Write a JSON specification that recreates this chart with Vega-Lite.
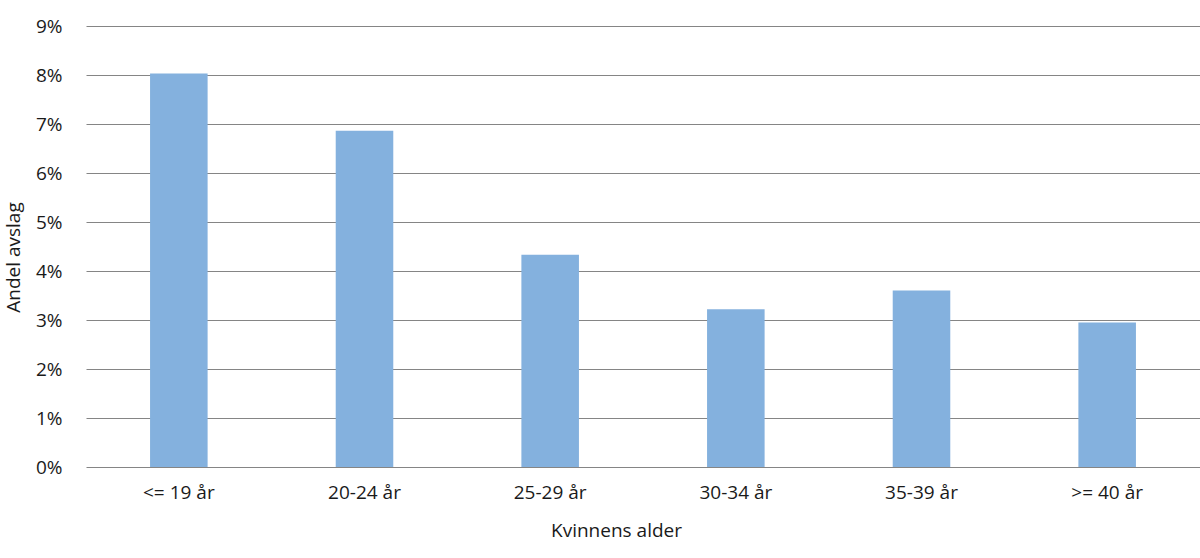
{
  "$schema": "https://vega.github.io/schema/vega-lite/v6.json",
  "autosize": {"type": "none"},
  "width": 1114,
  "height": 441,
  "padding": {"left": 86, "top": 26, "right": 0, "bottom": 91},
  "background": "white",
  "config": {
    "view": {"stroke": null},
    "font": "Open Sans",
    "axis": {
      "labelFont": "Open Sans",
      "titleFont": "Open Sans",
      "labelFontSize": 19,
      "titleFontSize": 19,
      "labelColor": "#1a1a1a",
      "titleColor": "#1a1a1a",
      "titleFontWeight": "normal",
      "labelOverlap": false
    }
  },
  "data": {
    "values": [
      {"alder": "<= 19 år", "andel": 0.0803},
      {"alder": "20-24 år", "andel": 0.0686},
      {"alder": "25-29 år", "andel": 0.0433},
      {"alder": "30-34 år", "andel": 0.0322},
      {"alder": "35-39 år", "andel": 0.0360},
      {"alder": ">= 40 år", "andel": 0.0295}
    ]
  },
  "mark": {"type": "bar", "color": "#84b1de"},
  "encoding": {
    "x": {
      "field": "alder",
      "type": "nominal",
      "sort": null,
      "title": "Kvinnens alder",
      "scale": {"paddingInner": 0.69, "paddingOuter": 0.345},
      "axis": {
        "labelAngle": 0,
        "ticks": false,
        "domain": false,
        "labelPadding": 16,
        "titlePadding": 19,
        "titleX": 530
      }
    },
    "y": {
      "field": "andel",
      "type": "quantitative",
      "title": "Andel avslag",
      "scale": {"domain": [0, 0.09]},
      "axis": {
        "format": ".0%",
        "values": [0, 0.01, 0.02, 0.03, 0.04, 0.05, 0.06, 0.07, 0.08, 0.09],
        "ticks": false,
        "domain": false,
        "gridColor": "#858585",
        "gridWidth": 1,
        "labelPadding": 24,
        "titlePadding": 12,
        "titleY": 231
      }
    }
  }
}
